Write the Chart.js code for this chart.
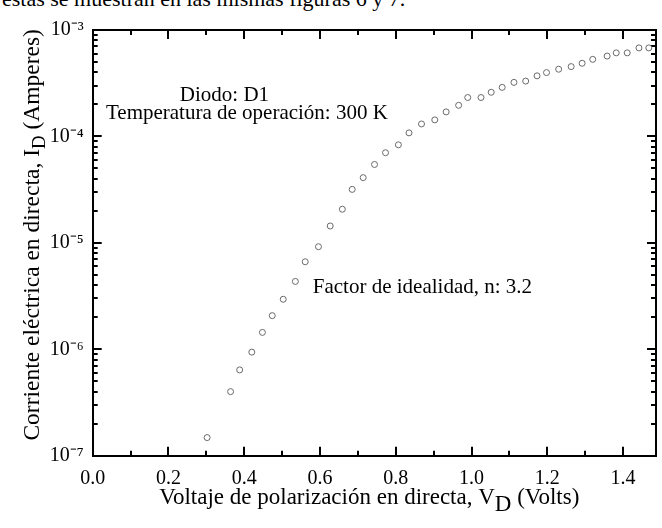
<!DOCTYPE html>
<html>
<head>
<meta charset="utf-8">
<script src="https://cdn.jsdelivr.net/npm/chart.js@4.4.1/dist/chart.umd.min.js"></script>
<style>
  html, body { margin: 0; padding: 0; background: #ffffff; }
  #wrap { position: relative; width: 662px; height: 528px; overflow: hidden; background: #fff; }
  #clip { position: absolute; left: 2px; top: -12.5px; font-family: "Liberation Serif", serif;
          font-size: 22px; line-height: 22px; color: #000; white-space: nowrap; }
  canvas { position: absolute; left: 0; top: 0; }
</style>
</head>
<body>
<div id="wrap">
  <div id="clip">estas se muestran en las mismas figuras 6 y 7.</div>
  <canvas id="c" width="662" height="528"></canvas>
</div>
<script>
// ---- data ----
const voltage = [0.302, 0.364, 0.388, 0.420, 0.448, 0.474, 0.503, 0.535, 0.561, 0.596,
                 0.627, 0.659, 0.685, 0.714, 0.744, 0.773, 0.807, 0.835, 0.868, 0.903,
                 0.933, 0.966, 0.990, 1.025, 1.052, 1.081, 1.112, 1.143, 1.173, 1.198,
                 1.230, 1.263, 1.292, 1.320, 1.358, 1.382, 1.411, 1.442, 1.468];
const current = [1.48e-7, 4.0e-7, 6.4e-7, 9.4e-7, 1.44e-6, 2.07e-6, 2.95e-6, 4.34e-6, 6.64e-6, 9.2e-6,
                 1.44e-5, 2.07e-5, 3.18e-5, 4.1e-5, 5.45e-5, 7.03e-5, 8.34e-5, 1.08e-4, 1.31e-4, 1.43e-4,
                 1.70e-4, 1.96e-4, 2.32e-4, 2.32e-4, 2.60e-4, 2.89e-4, 3.22e-4, 3.31e-4, 3.71e-4, 3.98e-4,
                 4.28e-4, 4.53e-4, 4.87e-4, 5.30e-4, 5.69e-4, 6.10e-4, 6.10e-4, 6.79e-4, 6.79e-4];
const xMajorTicks = [0.0, 0.2, 0.4, 0.6, 0.8, 1.0, 1.2, 1.4];
const xMinorTicks = [0.1, 0.3, 0.5, 0.7, 0.9, 1.1, 1.3];
const yDecades = [1e-7, 1e-6, 1e-5, 1e-4, 1e-3];
const yMinorFactors = [2, 3, 4, 5, 6, 7, 8, 9];
const yTickLabels = ['10\u207B\u2077', '10\u207B\u2076', '10\u207B\u2075', '10\u207B\u2074', '10\u207B\u00B3'];
const noteTexts = ['Diodo: D1', 'Temperatura de operación: 300 K', 'Factor de idealidad, n: 3.2'];
const noteX = [0.230, 0.035, 0.581];
const noteY = [2.42e-4, 1.65e-4, 3.8e-6];
const xTitleParts = [['Voltaje de polarización en directa, V', false], ['D', true], [' (Volts)', false]];
const yTitleParts = [['Corriente eléctrica en directa, I', false], ['D', true], [' (Amperes)', false]];

const FONT = '"Liberation Serif", serif';
const X_MIN = 0, X_MAX = 1.487, Y_MIN = 1e-7, Y_MAX = 1e-3;
const points = voltage.map((v, i) => ({ x: v, y: current[i] }));
const yMinorTicks = [];
yDecades.slice(0, -1).forEach(d => yMinorFactors.forEach(k => yMinorTicks.push(d * k)));

function drawRich(ctx, parts, size, subScale, subShift) {
  let total = 0;
  const widths = parts.map(([t, sub]) => {
    ctx.font = (sub ? size * subScale : size) + 'px ' + FONT;
    const w = ctx.measureText(t).width;
    total += w;
    return w;
  });
  let x = -total / 2;
  parts.forEach(([t, sub], i) => {
    ctx.font = (sub ? size * subScale : size) + 'px ' + FONT;
    ctx.fillText(t, x, sub ? subShift : 0);
    x += widths[i];
  });
}

const textPlugin = {
  id: 'texts',
  afterDraw(chart) {
    const { ctx, chartArea: a, scales } = chart;
    const xs = scales.x, ys = scales.y;
    ctx.save();
    ctx.fillStyle = '#000';
    ctx.font = '21px ' + FONT;
    ctx.textAlign = 'left';
    ctx.textBaseline = 'middle';
    noteTexts.forEach((t, i) => {
      ctx.fillText(t, xs.getPixelForValue(noteX[i]), ys.getPixelForValue(noteY[i]));
    });
    ctx.textBaseline = 'alphabetic';
    ctx.save();
    ctx.translate((a.left + a.right) / 2 - 5, 504);
    drawRich(ctx, xTitleParts, 23, 1.0, 7);
    ctx.restore();
    ctx.save();
    ctx.translate(39, (a.top + a.bottom) / 2 - 8);
    ctx.rotate(-Math.PI / 2);
    drawRich(ctx, yTitleParts, 23.5, 0.8, 6);
    ctx.restore();
    ctx.restore();
  }
};

// inward tick marks: negative tick length, drawn by Chart.js itself
function tickGrid(len) {
  return { display: true, drawOnChartArea: false, drawTicks: true, tickLength: -len,
           tickWidth: 2, tickColor: '#000', color: '#000', lineWidth: 2 };
}
const frameBorder = { display: true, color: '#000', width: 2 };
const noBorder = { display: false };

function xAxis(position, weight, tickVals, len, border, extra) {
  return Object.assign({
    type: 'linear', position, weight, min: X_MIN, max: X_MAX,
    grid: tickGrid(len), border,
    afterBuildTicks: s => { s.ticks = tickVals.map(v => ({ value: v })); },
    afterFit: s => { s.height = 0; },
    ticks: { display: false }
  }, extra || {});
}
function yAxis(position, weight, tickVals, len, border, extra) {
  return Object.assign({
    type: 'logarithmic', position, weight, min: Y_MIN, max: Y_MAX,
    grid: tickGrid(len), border,
    afterBuildTicks: s => { s.ticks = tickVals.map(v => ({ value: v })); },
    afterFit: s => { s.width = 0; },
    ticks: { display: false }
  }, extra || {});
}

new Chart(document.getElementById('c'), {
  type: 'scatter',
  data: {
    datasets: [{
      data: points,
      xAxisID: 'x',
      yAxisID: 'y',
      showLine: false,
      pointStyle: 'circle',
      pointRadius: 3,
      pointBorderWidth: 1,
      pointBorderColor: '#6a6a6a',
      pointBackgroundColor: 'rgba(0,0,0,0)'
    }]
  },
  options: {
    responsive: false,
    animation: false,
    layout: { padding: { left: 0, right: 6, top: 23.5, bottom: 0 } },
    plugins: { legend: { display: false }, tooltip: { enabled: false } },
    scales: {
      x: xAxis('bottom', 1, xMajorTicks, 9, frameBorder, {
        afterFit: s => { s.height = 72.3; },
        ticks: { display: true, padding: 20, color: '#000', font: { family: FONT, size: 20 },
                 maxRotation: 0, autoSkip: false, callback: v => Number(v).toFixed(1) }
      }),
      xm: xAxis('bottom', 0, xMinorTicks, 5, noBorder),
      xt: xAxis('top', 1, xMajorTicks, 9, frameBorder),
      xtm: xAxis('top', 0, xMinorTicks, 5, noBorder),
      y: yAxis('left', 1, yDecades, 9, frameBorder, {
        afterFit: s => { s.width = 92.7; },
        ticks: { display: true, padding: 18, color: '#000', font: { family: FONT, size: 20 }, autoSkip: false,
                 callback: (v) => {
                   const i = yDecades.findIndex(d => Math.abs(Math.log10(d) - Math.log10(v)) < 1e-6);
                   return i >= 0 ? yTickLabels[i] : '';
                 } }
      }),
      ym: yAxis('left', 0, yMinorTicks, 5, noBorder),
      yr: yAxis('right', 1, yDecades, 9, frameBorder),
      yrm: yAxis('right', 0, yMinorTicks, 5, noBorder)
    }
  },
  plugins: [textPlugin]
});
</script>
</body>
</html>
